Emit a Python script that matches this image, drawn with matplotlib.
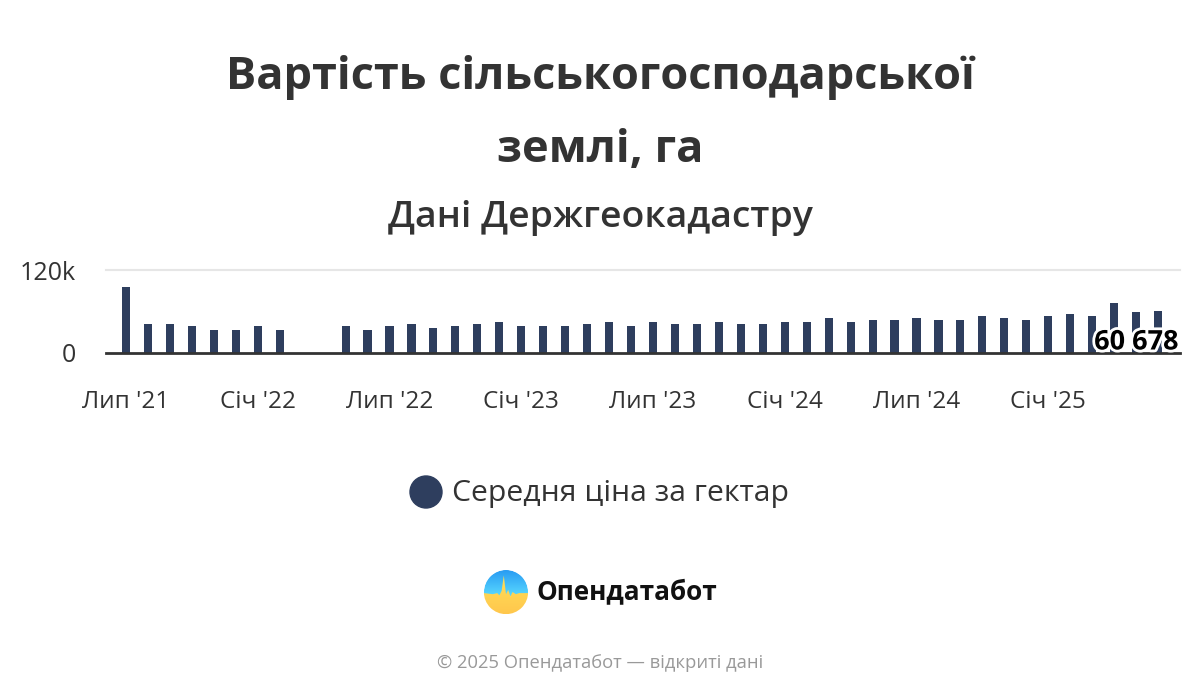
import matplotlib
matplotlib.use("Agg")
import matplotlib.pyplot as plt
import matplotlib.patheffects as pe
import numpy as np
from matplotlib.patches import Circle, Polygon

# ---- data ----
months = ["Лип '21", "Сер '21", "Вер '21", "Жов '21", "Лис '21", "Гру '21",
          "Січ '22", "Лют '22", "Бер '22", "Кві '22", "Тра '22", "Чер '22",
          "Лип '22", "Сер '22", "Вер '22", "Жов '22", "Лис '22", "Гру '22",
          "Січ '23", "Лют '23", "Бер '23", "Кві '23", "Тра '23", "Чер '23",
          "Лип '23", "Сер '23", "Вер '23", "Жов '23", "Лис '23", "Гру '23",
          "Січ '24", "Лют '24", "Бер '24", "Кві '24", "Тра '24", "Чер '24",
          "Лип '24", "Сер '24", "Вер '24", "Жов '24", "Лис '24", "Гру '24",
          "Січ '25", "Лют '25", "Бер '25", "Кві '25", "Тра '25", "Чер '25"]
prices = [94700, 42000, 42000, 39000, 33200, 33200, 39000, 33200, None, None,
          39000, 33200, 39000, 42000, 36000, 39000, 42000, 45000,
          39000, 39000, 39000, 42000, 45000, 39000, 45000, 42000, 42000,
          45000, 42000, 42000, 45000, 45000, 50700, 45000, 48000, 48000,
          50700, 48000, 48000, 53600, 50700, 48000, 53600, 56600, 53600,
          71400, 59500, 60678]
tick_labels = ["Лип '21", "Січ '22", "Лип '22", "Січ '23", "Лип '23",
               "Січ '24", "Лип '24", "Січ '25"]
series_name = "Середня ціна за гектар"
y_ticks = [0, 120000]
y_tick_labels = ["0", "120k"]

BAR = "#2e3e5e"
TXT = "#333333"
FONT = "Open Sans"

plt.rcParams['font.family'] = [FONT, 'DejaVu Sans']

fig = plt.figure(figsize=(12, 7), dpi=100)
fig.patch.set_facecolor("white")

ax = fig.add_axes([106/1200, 1 - 352.5/700, (1180-106)/1200, (352.5-270)/700])
x = np.arange(len(months))
vals = np.array([np.nan if v is None else v for v in prices], dtype=float)
mask = ~np.isnan(vals)
ax.bar(x[mask], vals[mask], width=0.37, color=BAR, zorder=3)

ax.set_xlim(-0.91, 48.0)
ax.set_ylim(0, 120000)
for s in ["top", "right", "left"]:
    ax.spines[s].set_visible(False)
ax.spines["bottom"].set_color(TXT)
ax.spines["bottom"].set_linewidth(2)
ax.spines["bottom"].set_zorder(4)
ax.axhline(120000, color="#e6e6e6", lw=1.5, zorder=1, clip_on=False)

ax.set_yticks(y_ticks)
ax.set_yticklabels([])
ax.tick_params(axis="y", length=0)
tick_pos = [months.index(t) for t in tick_labels]
ax.set_xticks(tick_pos)
ax.set_xticklabels(tick_labels)
ax.tick_params(axis="x", length=0, pad=27, labelsize=17.5, labelcolor=TXT)

for v, t in zip(y_ticks, y_tick_labels):
    ax.annotate(t, xy=(0, v), xycoords=("axes fraction", "data"),
                xytext=(-30, -3), textcoords="offset pixels",
                ha="right", va="center", fontsize=18, color=TXT)

# data label for last point
last_val = prices[-1]
ax.annotate(f"{last_val:,}".replace(",", " "), xy=(len(months)-1, 0),
            xytext=(21, 10), textcoords="offset pixels",
            ha="right", va="center", fontsize=19.5, fontweight="bold",
            color="black", zorder=6,
            path_effects=[pe.withStroke(linewidth=4, foreground="white")])

# titles
fig.text(0.5, 1 - 77/700, "Вартість сільськогосподарської", ha="center", va="center",
         fontsize=32.5, fontweight="bold", color=TXT)
fig.text(0.5, 1 - 150/700, "землі, га", ha="center", va="center",
         fontsize=32.5, fontweight="bold", color=TXT)
fig.text(0.5, 1 - 218/700, "Дані Держгеокадастру", ha="center", va="center",
         fontsize=26.9, fontweight="semibold", color=TXT)

# legend
fig.patches.append(Circle((4.26, 7 - 4.92), 0.16,
                          transform=fig.dpi_scale_trans, color=BAR))
fig.text(452/1200, 1 - 493/700, series_name, ha="left", va="center",
         fontsize=21.7, color=TXT)

# logo
lax = fig.add_axes([(506-22)/1200, 1 - (592+22)/700, 44/1200, 44/700])
lax.axis("off")
circ = Circle((0, 0), 1, transform=lax.transData)
blue = np.dstack([np.linspace(0.35, 0.15, 100)[:, None].repeat(2, 1),
                  np.linspace(0.85, 0.6, 100)[:, None].repeat(2, 1),
                  np.linspace(1.0, 0.95, 100)[:, None].repeat(2, 1)])
im1 = lax.imshow(blue, extent=(-1, 1, 1, -0.2), aspect="auto")
im1.set_clip_path(circ)
wave_x = [-1, -0.6, -0.4, -0.3, -0.2, -0.1, 0.0, 0.1, 0.2, 0.3, 0.45, 0.6, 1]
wave_y = [-0.05, -0.1, -0.05, -0.15, 0.05, 0.75, -0.1, 0.1, -0.2, 0.0, -0.1, -0.05, -0.05]
poly = Polygon(list(zip(wave_x, wave_y)) + [(1, -1), (-1, -1)], closed=True,
               transform=lax.transData)
yel = np.dstack([np.ones((100, 2)) * 1.0,
                 np.linspace(0.88, 0.78, 100)[:, None].repeat(2, 1),
                 np.linspace(0.35, 0.3, 100)[:, None].repeat(2, 1)])
im2 = lax.imshow(yel, extent=(-1, 1, -1, 0.8), aspect="auto", zorder=2)
im2.set_clip_path(poly)
lax.set_xlim(-1, 1); lax.set_ylim(-1, 1)
ring = Circle((0, 0), 1.45, fill=False, lw=14, ec="white", transform=lax.transData,
              zorder=5, clip_on=False)
lax.add_patch(ring)

fig.text(536/1200, 1 - 592/700, "Опендатабот", ha="left", va="center",
         fontsize=18.8, fontweight="bold", color="#111111")

fig.text(0.5, 1 - 663/700, "© 2025 Опендатабот — відкриті дані", ha="center",
         va="center", fontsize=13.2, color="#999999")

fig.savefig("out.png", dpi=100, facecolor="white")
